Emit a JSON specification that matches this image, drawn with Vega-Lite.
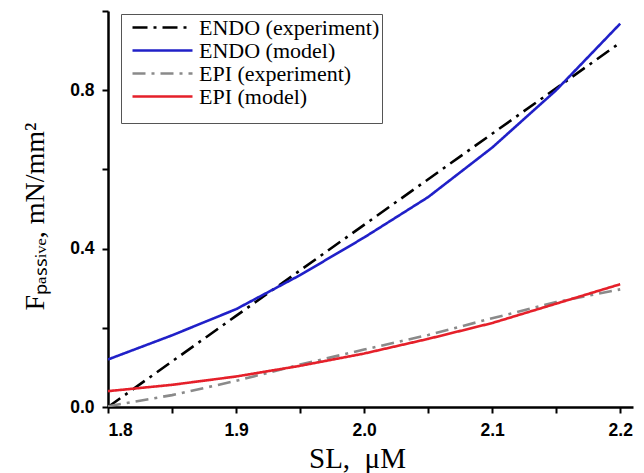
{
  "$schema": "https://vega.github.io/schema/vega-lite/v6.json",
  "width": 525,
  "height": 396,
  "autosize": {"type": "none"},
  "padding": {"left": 108, "top": 11, "right": 11, "bottom": 66},
  "background": "white",
  "config": {"view": {"stroke": null}},
  "data": {
    "values": [
      {"sl": 1.8, "f": 0.0, "series": "ENDO (experiment)"},
      {"sl": 1.9, "f": 0.23, "series": "ENDO (experiment)"},
      {"sl": 2.0, "f": 0.46, "series": "ENDO (experiment)"},
      {"sl": 2.1, "f": 0.69, "series": "ENDO (experiment)"},
      {"sl": 2.2, "f": 0.92, "series": "ENDO (experiment)"},
      {"sl": 1.8, "f": 0.12, "series": "ENDO (model)"},
      {"sl": 1.85, "f": 0.181, "series": "ENDO (model)"},
      {"sl": 1.9, "f": 0.247, "series": "ENDO (model)"},
      {"sl": 1.95, "f": 0.333, "series": "ENDO (model)"},
      {"sl": 2.0, "f": 0.428, "series": "ENDO (model)"},
      {"sl": 2.05, "f": 0.53, "series": "ENDO (model)"},
      {"sl": 2.1, "f": 0.655, "series": "ENDO (model)"},
      {"sl": 2.15, "f": 0.8, "series": "ENDO (model)"},
      {"sl": 2.2, "f": 0.968, "series": "ENDO (model)"},
      {"sl": 1.8, "f": 0.002, "series": "EPI (experiment)"},
      {"sl": 1.85, "f": 0.03, "series": "EPI (experiment)"},
      {"sl": 1.9, "f": 0.066, "series": "EPI (experiment)"},
      {"sl": 1.95, "f": 0.107, "series": "EPI (experiment)"},
      {"sl": 2.0, "f": 0.145, "series": "EPI (experiment)"},
      {"sl": 2.05, "f": 0.182, "series": "EPI (experiment)"},
      {"sl": 2.1, "f": 0.224, "series": "EPI (experiment)"},
      {"sl": 2.15, "f": 0.265, "series": "EPI (experiment)"},
      {"sl": 2.2, "f": 0.297, "series": "EPI (experiment)"},
      {"sl": 1.8, "f": 0.04, "series": "EPI (model)"},
      {"sl": 1.85, "f": 0.056, "series": "EPI (model)"},
      {"sl": 1.9, "f": 0.077, "series": "EPI (model)"},
      {"sl": 1.95, "f": 0.104, "series": "EPI (model)"},
      {"sl": 2.0, "f": 0.135, "series": "EPI (model)"},
      {"sl": 2.05, "f": 0.172, "series": "EPI (model)"},
      {"sl": 2.1, "f": 0.212, "series": "EPI (model)"},
      {"sl": 2.15, "f": 0.261, "series": "EPI (model)"},
      {"sl": 2.2, "f": 0.31, "series": "EPI (model)"}
    ]
  },
  "mark": {"type": "line", "strokeWidth": 2.6, "clip": true},
  "encoding": {
    "x": {
      "field": "sl",
      "type": "quantitative",
      "scale": {"domain": [1.8, 2.21], "nice": false, "zero": false},
      "axis": {
        "title": "SL,\u00a0 μM",
        "values": [1.8, 1.85, 1.9, 1.95, 2.0, 2.05, 2.1, 2.15, 2.2],
        "labelExpr": "round(datum.value*100) % 10 == 0 ? format(datum.value, '.1f') : ''",
        "grid": false,
        "domainColor": "black",
        "domainWidth": 2.5,
        "tickColor": "black",
        "tickWidth": 2,
        "tickSize": 6,
        "labelPadding": 8,
        "labelFont": "Liberation Sans",
        "labelFontWeight": "bold",
        "labelFontSize": 17.5,
        "labelColor": "black",
        "titleFont": "Liberation Serif",
        "titleFontWeight": "normal",
        "titleFontSize": 29,
        "titleColor": "black",
        "titleBaseline": "alphabetic",
        "titleX": 249,
        "titleY": 60
      }
    },
    "y": {
      "field": "f",
      "type": "quantitative",
      "scale": {"domain": [0, 1.0], "nice": false},
      "axis": {
        "title": "Fₚₐₛₛᵢᵥₑ, mN/mm²",
        "values": [0, 0.2, 0.4, 0.6, 0.8, 1.0],
        "labelExpr": "(round(datum.value*10) % 4 == 0) ? format(datum.value, '.1f') : ''",
        "grid": false,
        "domainColor": "black",
        "domainWidth": 2.5,
        "tickColor": "black",
        "tickWidth": 2,
        "tickSize": 6,
        "labelPadding": 8,
        "labelFont": "Liberation Sans",
        "labelFontWeight": "bold",
        "labelFontSize": 17.5,
        "labelColor": "black",
        "titleFont": "Liberation Serif",
        "titleFontWeight": "normal",
        "titleFontSize": 28,
        "titleColor": "black",
        "titleAngle": -90,
        "titleBaseline": "alphabetic",
        "titleAlign": "center",
        "titleX": -65,
        "titleY": 205
      }
    },
    "color": {
      "field": "series",
      "type": "nominal",
      "scale": {
        "domain": ["ENDO (experiment)", "ENDO (model)", "EPI (experiment)", "EPI (model)"],
        "range": ["#000000", "#2020c8", "#8a8a8a", "#e5202a"]
      },
      "legend": {
        "orient": "none",
        "legendX": 13,
        "legendY": 3,
        "title": " ",
        "titleOrient": "bottom",
        "titleFontSize": 10,
        "titlePadding": 3,
        "padding": 2,
        "rowPadding": 0,
        "fillColor": "white",
        "strokeColor": "#555555",
        "symbolType": "M-3,0H3",
        "symbolSize": 400,
        "symbolStrokeWidth": 2.7,
        "symbolOffset": 28,
        "labelOffset": 25,
        "labelFont": "Liberation Serif",
        "labelFontSize": 22,
        "labelColor": "black",
        "labelLimit": 400
      }
    },
    "strokeDash": {
      "field": "series",
      "type": "nominal",
      "scale": {
        "domain": ["ENDO (experiment)", "ENDO (model)", "EPI (experiment)", "EPI (model)"],
        "range": [[15, 6, 3, 6], [1, 0], [13, 6, 3, 6], [1, 0]]
      },
      "legend": null
    }
  }
}
